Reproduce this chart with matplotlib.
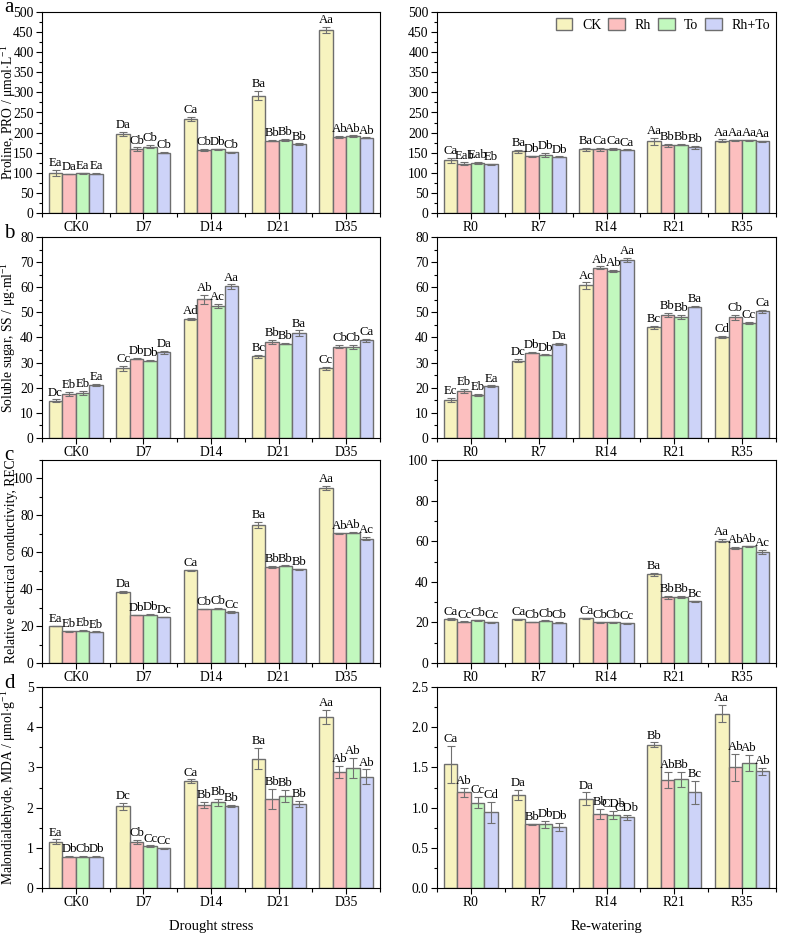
import numpy as np
import matplotlib
matplotlib.use("Agg")
import matplotlib.pyplot as plt
from matplotlib.ticker import MultipleLocator, FormatStrFormatter

plt.rcParams['font.family'] = ['Liberation Serif', 'DejaVu Serif']
plt.rcParams['mathtext.fontset'] = 'custom'
plt.rcParams['mathtext.rm'] = 'Liberation Serif'
plt.rcParams['mathtext.it'] = 'Liberation Serif:italic'

treatments = ['CK', 'Rh', 'To', 'Rh+To']
colors = ['#F7F3BF', '#FCBFBF', '#C2F8BE', '#CDD3F8']
drought_groups = ['CK0', 'D7', 'D14', 'D21', 'D35']
rewater_groups = ['R0', 'R7', 'R14', 'R21', 'R35']

# ---- a: proline ----
pro_d = [[100, 197, 234, 292, 456],
         [97, 158, 157, 180, 189],
         [99, 165, 158, 182, 191],
         [98, 150, 151, 171, 187]]
pro_d_err = [[8, 5, 5, 12, 7],
             [1, 5, 3, 2, 2],
             [1, 4, 2, 2, 2],
             [1, 1, 1, 2, 1]]
pro_d_lab = [['Ea', 'Da', 'Ca', 'Ba', 'Aa'],
             ['Da', 'Cb', 'Cb', 'Bb', 'Ab'],
             ['Ea', 'Cb', 'Db', 'Bb', 'Ab'],
             ['Ea', 'Cb', 'Cb', 'Bb', 'Ab']]
pro_r = [[131, 153, 158, 178, 180],
         [123, 141, 158, 168, 181],
         [125, 145, 159, 170, 181],
         [121, 140, 157, 163, 178]]
pro_r_err = [[7, 3, 3, 8, 3],
             [3, 2, 3, 3, 1],
             [3, 5, 2, 1, 1],
             [1, 1, 1, 3, 1]]
pro_r_lab = [['Ca', 'Ba', 'Ba', 'Aa', 'Aa'],
             ['Eab', 'Db', 'Ca', 'Bb', 'Aa'],
             ['Eab', 'Db', 'Ca', 'Bb', 'Aa'],
             ['Eb', 'Db', 'Ca', 'Bb', 'Aa']]

# ---- b: soluble sugar ----
ss_d = [[14.8, 27.7, 47.5, 32.6, 27.8],
        [17.5, 31.6, 55.3, 38.3, 36.4],
        [18.1, 30.8, 52.7, 37.6, 36.3],
        [21.0, 34.1, 60.3, 41.6, 38.9]]
ss_d_err = [[0.6, 1.0, 0.4, 0.6, 0.6],
            [0.7, 0.3, 1.8, 0.8, 0.6],
            [0.8, 0.2, 0.8, 0.3, 0.7],
            [0.4, 0.5, 0.8, 1.2, 0.5]]
ss_d_lab = [['Dc', 'Cc', 'Ad', 'Bc', 'Cc'],
            ['Eb', 'Db', 'Ab', 'Bb', 'Cb'],
            ['Eb', 'Db', 'Ac', 'Bb', 'Cb'],
            ['Ea', 'Da', 'Aa', 'Ba', 'Ca']]
ss_r = [[15.0, 30.8, 60.7, 44.0, 40.1],
        [18.7, 34.0, 67.8, 49.0, 48.0],
        [17.3, 33.1, 66.6, 48.2, 45.9],
        [20.5, 37.4, 70.9, 52.3, 50.4]]
ss_r_err = [[0.8, 0.7, 1.2, 0.6, 0.4],
            [0.8, 0.2, 0.5, 0.8, 1.1],
            [0.4, 0.2, 0.4, 0.7, 0.4],
            [0.4, 0.5, 0.9, 0.3, 0.6]]
ss_r_lab = [['Ec', 'Dc', 'Ac', 'Bc', 'Cd'],
            ['Eb', 'Db', 'Ab', 'Bb', 'Cb'],
            ['Eb', 'Db', 'Ab', 'Bb', 'Cc'],
            ['Ea', 'Da', 'Aa', 'Ba', 'Ca']]

# ---- c: relative electrical conductivity ----
rec_d = [[20.0, 38.6, 50.3, 74.8, 94.8],
         [17.2, 26.0, 29.3, 52.2, 70.2],
         [17.5, 26.2, 29.5, 52.6, 70.7],
         [16.9, 24.9, 27.6, 50.8, 67.4]]
rec_d_err = [[0.2, 0.4, 0.2, 1.8, 1.2],
             [0.3, 0.2, 0.2, 0.5, 0.5],
             [0.3, 0.2, 0.2, 0.3, 0.3],
             [0.2, 0.2, 0.4, 0.3, 0.9]]
rec_d_lab = [['Ea', 'Da', 'Ca', 'Ba', 'Aa'],
             ['Eb', 'Db', 'Cb', 'Bb', 'Ab'],
             ['Eb', 'Db', 'Cb', 'Bb', 'Ab'],
             ['Eb', 'Dc', 'Cc', 'Bb', 'Ac']]
rec_r = [[21.7, 21.5, 22.0, 43.7, 60.3],
         [20.3, 20.2, 20.1, 32.4, 56.8],
         [21.0, 20.8, 20.1, 32.6, 57.4],
         [20.1, 19.9, 19.6, 30.3, 54.7]]
rec_r_err = [[0.3, 0.4, 0.2, 0.7, 0.8],
             [0.2, 0.2, 0.2, 0.8, 0.4],
             [0.2, 0.2, 0.2, 0.4, 0.3],
             [0.2, 0.3, 0.2, 0.2, 1.1]]
rec_r_lab = [['Ca', 'Ca', 'Ca', 'Ba', 'Aa'],
             ['Cc', 'Cb', 'Cb', 'Bb', 'Ab'],
             ['Cb', 'Cb', 'Cb', 'Bb', 'Ab'],
             ['Cc', 'Cb', 'Cc', 'Bc', 'Ac']]

# ---- d: malondialdehyde ----
mda_d = [[1.15, 2.03, 2.65, 3.22, 4.25],
         [0.78, 1.15, 2.07, 2.22, 2.88],
         [0.78, 1.04, 2.13, 2.30, 2.99],
         [0.78, 0.99, 2.04, 2.09, 2.77]]
mda_d_err = [[0.06, 0.08, 0.05, 0.27, 0.18],
             [0.02, 0.05, 0.07, 0.25, 0.15],
             [0.01, 0.02, 0.09, 0.15, 0.25],
             [0.01, 0.01, 0.03, 0.08, 0.18]]
mda_d_lab = [['Ea', 'Dc', 'Ca', 'Ba', 'Aa'],
             ['Db', 'Cb', 'Bb', 'Bb', 'Ab'],
             ['Cb', 'Cc', 'Bb', 'Bb', 'Ab'],
             ['Db', 'Cc', 'Bb', 'Bb', 'Ab']]
mda_r = [[1.54, 1.16, 1.11, 1.78, 2.17],
         [1.19, 0.79, 0.92, 1.34, 1.50],
         [1.06, 0.79, 0.91, 1.35, 1.56],
         [0.94, 0.76, 0.88, 1.19, 1.45]]
mda_r_err = [[0.23, 0.06, 0.08, 0.03, 0.11],
             [0.06, 0.01, 0.06, 0.10, 0.17],
             [0.07, 0.04, 0.05, 0.09, 0.10],
             [0.13, 0.05, 0.03, 0.14, 0.04]]
mda_r_lab = [['Ca', 'Da', 'Da', 'Bb', 'Aa'],
             ['Ab', 'Bb', 'Bb', 'Ab', 'Ab'],
             ['Cc', 'Db', 'CDb', 'Bb', 'Ab'],
             ['Cd', 'Db', 'CDb', 'Bc', 'Ab']]

W, H = 787, 933
fig = plt.figure(figsize=(W / 100, H / 100), dpi=100)

def px_axes(x0, x1, y0, y1):
    return fig.add_axes([x0 / W, 1 - y1 / H, (x1 - x0) / W, (y1 - y0) / H])

rows = [(12, 213), (237, 438), (460, 663), (687, 888)]
cols = [(42, 380), (437, 776)]

def draw(ax, groups, vals, errs, labs, ymax, major, minor, fmt=None, ylabel=None):
    x = np.arange(1, len(groups) + 1)
    w = 0.2
    for i in range(4):
        pos = x + (i - 1.5) * w
        ax.bar(pos, vals[i], w, color=colors[i], edgecolor='#6e6e6e', linewidth=1.0,
               label=treatments[i], zorder=2)
        ax.errorbar(pos, vals[i], yerr=errs[i], fmt='none', ecolor='#707070',
                    elinewidth=0.8, capsize=3, capthick=0.8, zorder=3)
        for p, v, e, t in zip(pos, vals[i], errs[i], labs[i]):
            ax.text(p, v + e + ymax * 0.004, t, ha='center', va='bottom', fontsize=9.2)
    ax.set_xlim(0.5, 5.5)
    ax.set_ylim(0, ymax)
    ax.set_xticks(x)
    ax.set_xticklabels(groups)
    ax.xaxis.set_minor_locator(MultipleLocator(0.5))
    ax.yaxis.set_major_locator(MultipleLocator(major))
    ax.yaxis.set_minor_locator(MultipleLocator(minor))
    if fmt:
        ax.yaxis.set_major_formatter(FormatStrFormatter(fmt))
    ax.tick_params(axis='both', which='major', direction='out', length=4, labelsize=9.8, width=0.8, pad=2)
    ax.tick_params(axis='both', which='minor', direction='out', length=2, width=0.8)
    ax.tick_params(axis='x', which='minor', length=3)
    for s in ax.spines.values():
        s.set_linewidth(0.8)
    if ylabel:
        ax.set_ylabel(ylabel, fontsize=9.8)
        ax.yaxis.set_label_coords(-24 / 338, 0.5)
    return ax

panels = [
    (pro_d, pro_d_err, pro_d_lab, 500, 50, 25, None, r'Proline, PRO / $\mathrm{\mu}$mol$\cdot$L$^{-1}$',
     pro_r, pro_r_err, pro_r_lab, 500, 50, 25, None),
    (ss_d, ss_d_err, ss_d_lab, 80, 10, 5, None, r'Soluble sugar, SS / $\mathrm{\mu}$g$\cdot$ml$^{-1}$',
     ss_r, ss_r_err, ss_r_lab, 80, 10, 5, None),
    (rec_d, rec_d_err, rec_d_lab, 110, 20, 10, None, 'Relative electrical conductivity, REC',
     rec_r, rec_r_err, rec_r_lab, 100, 20, 10, None),
    (mda_d, mda_d_err, mda_d_lab, 5, 1, 0.5, None, r'Malondialdehyde, MDA / $\mathrm{\mu}$mol$\cdot$g$^{-1}$',
     mda_r, mda_r_err, mda_r_lab, 2.5, 0.5, 0.25, '%.1f'),
]

letters = ['a', 'b', 'c', 'd']
for k, p in enumerate(panels):
    y0, y1 = rows[k]
    axl = px_axes(cols[0][0], cols[0][1], y0, y1)
    draw(axl, drought_groups, p[0], p[1], p[2], p[3], p[4], p[5], p[6], p[7])
    axr = px_axes(cols[1][0], cols[1][1], y0, y1)
    draw(axr, rewater_groups, p[8], p[9], p[10], p[11], p[12], p[13], p[14])
    fig.text(4 / W, 1 - (y0 - 4) / H, letters[k], fontsize=15, va='center', ha='left')
    if k == 0:
        axr.legend(loc='upper right', ncol=4, frameon=False, fontsize=10,
                   handlelength=1.2, handleheight=1.0, columnspacing=0.5,
                   handletextpad=0.7, borderpad=0.2, borderaxespad=0.2)
    if k == 3:
        axl.set_xlabel('Drought stress', fontsize=10.5, labelpad=8)
        axr.set_xlabel('Re-watering', fontsize=10.5, labelpad=8)

fig.savefig('out.png', dpi=100)
